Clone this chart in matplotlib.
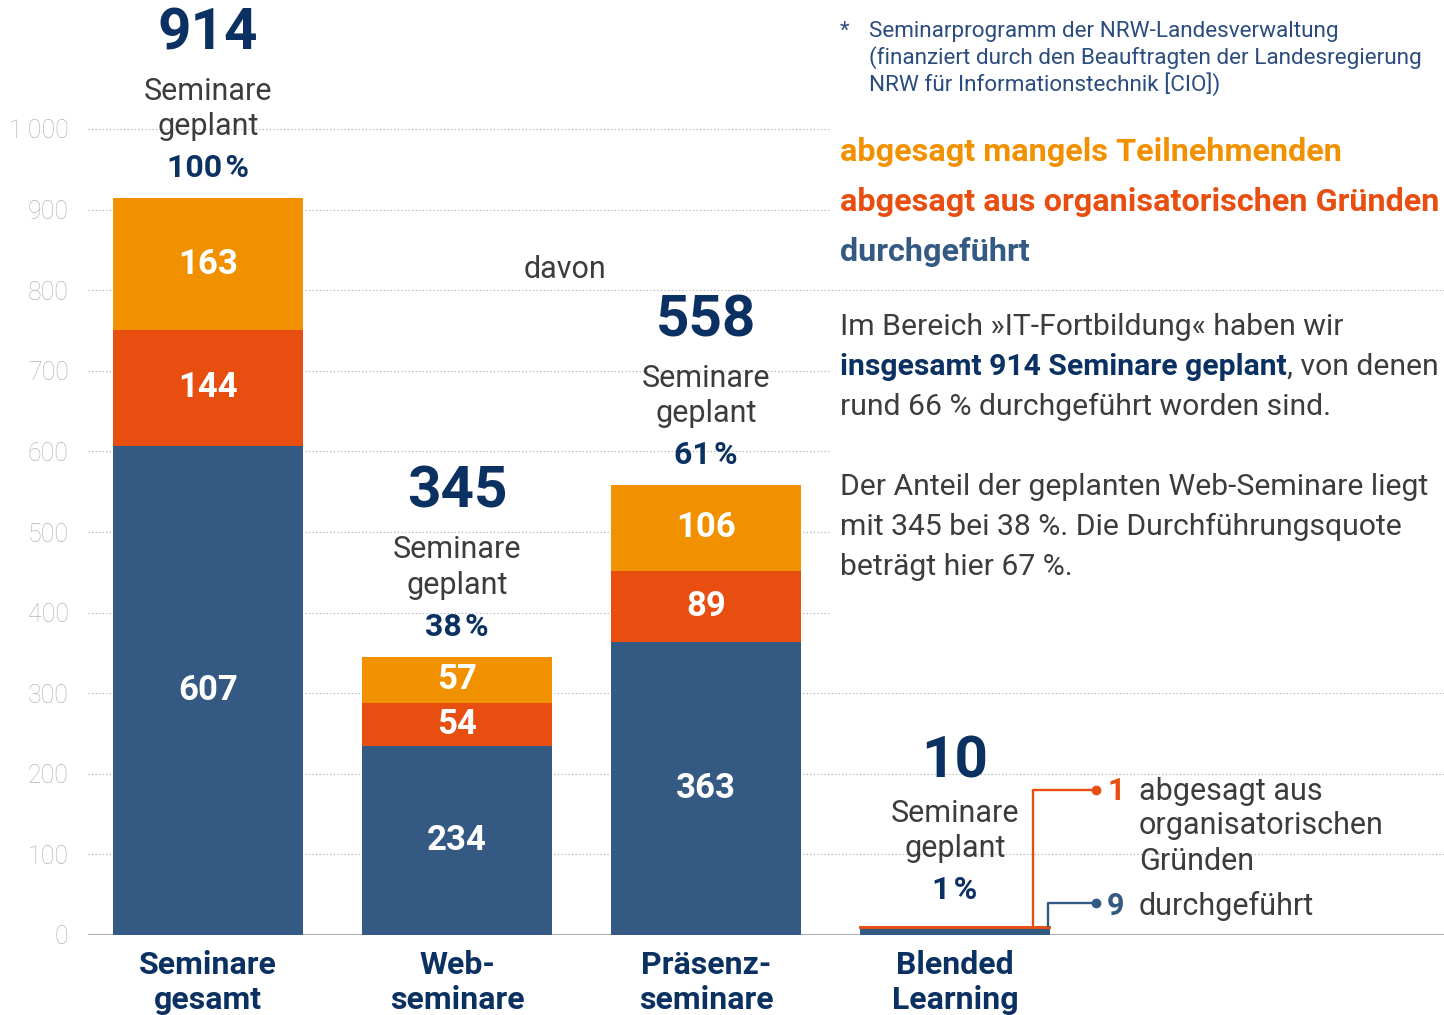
import matplotlib
matplotlib.use('Agg')
import matplotlib.pyplot as plt
import numpy as np

# ---------------- data ----------------
categories = ['Seminare\ngesamt', 'Web-\nseminare', 'Präsenz-\nseminare', 'Blended\nLearning']
durchgefuehrt = [607, 234, 363, 9]
abgesagt_org = [144, 54, 89, 1]
abgesagt_teiln = [163, 57, 106, 0]
geplant = [914, 345, 558, 10]
anteil = ['100\u200a%', '38\u200a%', '61\u200a%', '1\u200a%']
yticks = [0, 100, 200, 300, 400, 500, 600, 700, 800, 900, 1000]
ytick_labels = ['0', '100', '200', '300', '400', '500', '600', '700', '800', '900', '1\u2009000']

# ---------------- style ----------------
ORANGE = '#F29100'
RED = '#E84E10'
BLUE = '#345A83'
NAVY = '#0B3162'
GRAY = '#3c3c3c'
TICK = '#b5b5b5'
FOOT = '#2b4c7e'
FONT = ['Roboto', 'DejaVu Sans']
plt.rcParams['font.family'] = FONT

W, H = 1444, 1015
fig = plt.figure(figsize=(W / 100, H / 100), dpi=100)
ax = fig.add_axes([88 / W, 80 / H, 1 - 88 / W, 935 / H])
ax.set_xlim(-0.482, 4.964)
ax.set_ylim(0, 935 / 0.806)
for s in ax.spines.values():
    s.set_visible(False)
ax.set_xticks([])
ax.set_yticks(yticks, ytick_labels)
ax.tick_params(axis='y', length=0, pad=14, labelsize=18, labelcolor=TICK)
for lab in ax.get_yticklabels():
    lab.set_fontweight('light')

x = np.arange(len(categories))
width = 0.763
d = np.array(durchgefuehrt)
o = np.array(abgesagt_org)
t = np.array(abgesagt_teiln)

# gridlines
for yv in yticks[1:]:
    xend = 4.964 if yv in (800, 300, 200, 100) else 2.498
    ax.plot([-0.482, xend], [yv, yv], color='#a8a8a8', lw=0.8,
            linestyle=(0, (1, 2.2)), zorder=1)
ax.axhline(0, color='#b4b4b4', lw=1.6, zorder=2)

ax.bar(x, d, width, color=BLUE, zorder=3)
red_edge = [1.4 if v < 5 else 0 for v in abgesagt_org]
ax.bar(x, o, width, bottom=d, color=RED, edgecolor=RED, linewidth=red_edge, zorder=3)
ax.bar(x, t, width, bottom=d + o, color=ORANGE, zorder=3)

# segment labels
for i in range(len(x)):
    for val, bot in ((d[i], 0), (o[i], d[i]), (t[i], d[i] + o[i])):
        if val >= 30:
            ax.text(x[i], bot + val / 2, str(val), ha='center', va='center',
                    color='white', fontsize=25, fontweight='bold', zorder=4)

# labels above bars
for i in range(len(x)):
    top = geplant[i]
    extra = 5 if geplant[i] < 50 else 0
    ax.annotate(anteil[i], (x[i], top), xytext=(0, 21.6 + extra), textcoords='offset points',
                ha='center', va='center', fontsize=23, fontweight='bold', color=NAVY)
    ax.annotate('geplant', (x[i], top), xytext=(0, 51.5 + extra), textcoords='offset points',
                ha='center', va='center', fontsize=22, color=GRAY)
    ax.annotate('Seminare', (x[i], top), xytext=(0, 77 + extra), textcoords='offset points',
                ha='center', va='center', fontsize=22, color=GRAY)
    ax.annotate(str(geplant[i]), (x[i], top), xytext=(0, 118.5), textcoords='offset points',
                ha='center', va='center', fontsize=42, fontweight='bold', color=NAVY)
    ax.annotate(categories[i], (x[i], 0), xytext=(0, -11), textcoords='offset points',
                ha='center', va='top', fontsize=23, fontweight='bold', color=NAVY,
                linespacing=1.19, annotation_clip=False)

# blended learning leader lines
ax.plot([3.313, 3.313, 3.566], [geplant[3], 180, 180], color=RED, lw=1.7, zorder=4,
        solid_capstyle='butt')
ax.plot([3.566], [180], 'o', color=RED, ms=6, zorder=5)
ax.plot([3.373, 3.373, 3.566], [geplant[3], 39.7, 39.7], color=BLUE, lw=1.7, zorder=4,
        solid_capstyle='butt')
ax.plot([3.566], [39.7], 'o', color=BLUE, ms=6, zorder=5)


def ftext(px, py, s, **kw):
    kw.setdefault('va', 'center')
    return fig.text(px / W, 1 - py / H, s, **kw)


ftext(1107, 791, str(abgesagt_org[3]), fontsize=22, fontweight='bold', color=RED)
ftext(1107, 906, str(durchgefuehrt[3]), fontsize=22, fontweight='bold', color=BLUE)
for k, line in enumerate(['abgesagt aus', 'organisatorischen', 'Gründen']):
    ftext(1139, 791 + 35 * k, line, fontsize=22, color=GRAY)
ftext(1139, 906, 'durchgeführt', fontsize=22, color=GRAY)

ftext(565, 269, 'davon', fontsize=22, color=GRAY, ha='center')

# footnote
ftext(840, 31, '*', fontsize=16, color=FOOT)
for k, line in enumerate(['Seminarprogramm der NRW-Landesverwaltung',
                          '(finanziert durch den Beauftragten der Landesregierung',
                          'NRW für Informationstechnik [CIO])']):
    ftext(869, 31 + 26.5 * k, line, fontsize=16.2, color=FOOT)

# legend
ftext(840, 152, 'abgesagt mangels Teilnehmenden', fontsize=23.3, fontweight='bold', color=ORANGE)
ftext(840, 202, 'abgesagt aus organisatorischen Gründen', fontsize=23.3, fontweight='bold', color=RED)
ftext(840, 252, 'durchgeführt', fontsize=23.3, fontweight='bold', color=BLUE)

# paragraphs
PS = 21.7
ftext(840, 327, 'Im Bereich »IT-Fortbildung« haben wir', fontsize=PS, color=GRAY)
tb = ftext(840, 367, 'insgesamt 914 Seminare geplant', fontsize=PS, fontweight='bold', color=NAVY)
ax.annotate(', von denen', xy=(1, 0), xycoords=tb, fontsize=PS, color=GRAY,
            ha='left', va='bottom', annotation_clip=False)
ftext(840, 407, 'rund 66 % durchgeführt worden sind.', fontsize=PS, color=GRAY)
ftext(840, 487, 'Der Anteil der geplanten Web-Seminare liegt', fontsize=PS, color=GRAY)
ftext(840, 527, 'mit 345 bei 38 %. Die Durchführungsquote', fontsize=PS, color=GRAY)
ftext(840, 567, 'beträgt hier 67 %.', fontsize=PS, color=GRAY)

fig.savefig('out.png', dpi=100)
